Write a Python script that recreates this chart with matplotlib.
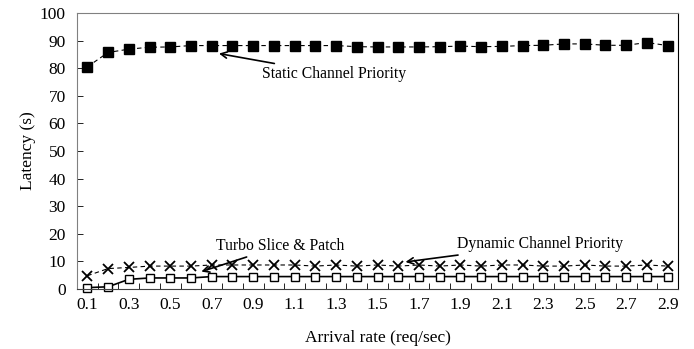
import numpy as np
import matplotlib.pyplot as plt

plt.rcParams['font.family'] = ['Liberation Serif', 'DejaVu Serif']

rates = ['0.1', '0.2', '0.3', '0.4', '0.5', '0.6', '0.7', '0.8', '0.9', '1.0',
         '1.1', '1.2', '1.3', '1.4', '1.5', '1.6', '1.7', '1.8', '1.9', '2.0',
         '2.1', '2.2', '2.3', '2.4', '2.5', '2.6', '2.7', '2.8', '2.9']

static_prio = [80.5, 85.7, 86.9, 87.6, 87.7, 88.2, 88.2, 88.2, 88.2, 88.2,
               88.2, 88.2, 88.2, 87.8, 87.7, 87.7, 87.7, 87.8, 88.0, 87.8,
               87.9, 88.2, 88.3, 88.8, 88.8, 88.3, 88.3, 89.3, 88.2]
dynamic_prio = [4.8, 7.4, 7.8, 8.3, 8.3, 8.3, 8.7, 8.7, 8.7, 8.7,
                8.7, 8.3, 8.7, 8.3, 8.7, 8.3, 8.7, 8.3, 8.7, 8.3,
                8.7, 8.7, 8.3, 8.3, 8.7, 8.3, 8.3, 8.7, 8.3]
turbo = [0.5, 0.8, 3.5, 4.0, 4.0, 4.0, 4.5, 4.5, 4.5, 4.5,
         4.5, 4.5, 4.5, 4.5, 4.5, 4.5, 4.5, 4.5, 4.5, 4.5,
         4.5, 4.5, 4.5, 4.5, 4.5, 4.5, 4.5, 4.5, 4.5]

x = np.arange(len(rates)) + 0.5

fig = plt.figure(figsize=(6.94, 3.49), dpi=100)
ax = fig.add_axes([77 / 694, 1 - 289 / 349, 601 / 694, 276 / 349])

ax.plot(x, static_prio, color='black', lw=0.8, ls=(0, (4, 3)),
        marker='s', ms=6.5, mfc='black', mec='black', clip_on=False)
ax.plot(x, dynamic_prio, color='black', lw=0.8, ls=(0, (4, 3)),
        marker='x', ms=7.5, mew=1.3, mec='black', clip_on=False)
ax.plot(x, turbo, color='black', lw=1.2, ls='-',
        marker='s', ms=6, mfc='white', mec='black', mew=1.0, clip_on=False)

ax.set_xlim(0, len(rates))
ax.set_ylim(0, 100)
ax.set_yticks(np.arange(0, 101, 10))

# category boundaries get the tick marks, every other category gets a label
ax.set_xticks(np.arange(len(rates) + 1))
ax.set_xticklabels([])
ax.set_xticks(x[::2], minor=True)
ax.set_xticklabels(rates[::2], minor=True)
ax.tick_params(axis='x', which='major', direction='in', length=4, width=0.6)
ax.tick_params(axis='x', which='minor', length=0, pad=6, labelsize=12.5)
ax.tick_params(axis='y', direction='in', length=4, width=0.6, labelsize=12.5, pad=8)

for s in ax.spines.values():
    s.set_linewidth(0.8)
ax.spines['top'].set_color('#808080')
ax.spines['left'].set_color('#808080')
ax.spines['bottom'].set_color('#404040')

ax.set_xlabel('Arrival rate (req/sec)', fontsize=12.5, labelpad=12)
ax.set_ylabel('Latency (s)', fontsize=12.5, labelpad=3)

arrow = dict(arrowstyle='->', color='black', lw=1.2, shrinkA=0, shrinkB=0)
ax.annotate('Static Channel Priority', xy=(x[6] + 0.35, 85.3), xytext=(8.95, 77.8),
            fontsize=11.3, ha='left', va='center', arrowprops=arrow)
ax.annotate('Turbo Slice & Patch', xy=(x[5] + 0.5, 6.3), xytext=(6.7, 15.5),
            fontsize=11.3, ha='left', va='center', arrowprops=arrow)
ax.annotate('Dynamic Channel Priority', xy=(x[15] + 0.35, 9.8), xytext=(18.35, 16.2),
            fontsize=11.3, ha='left', va='center', arrowprops=arrow)

fig.savefig('out.png', dpi=100)
